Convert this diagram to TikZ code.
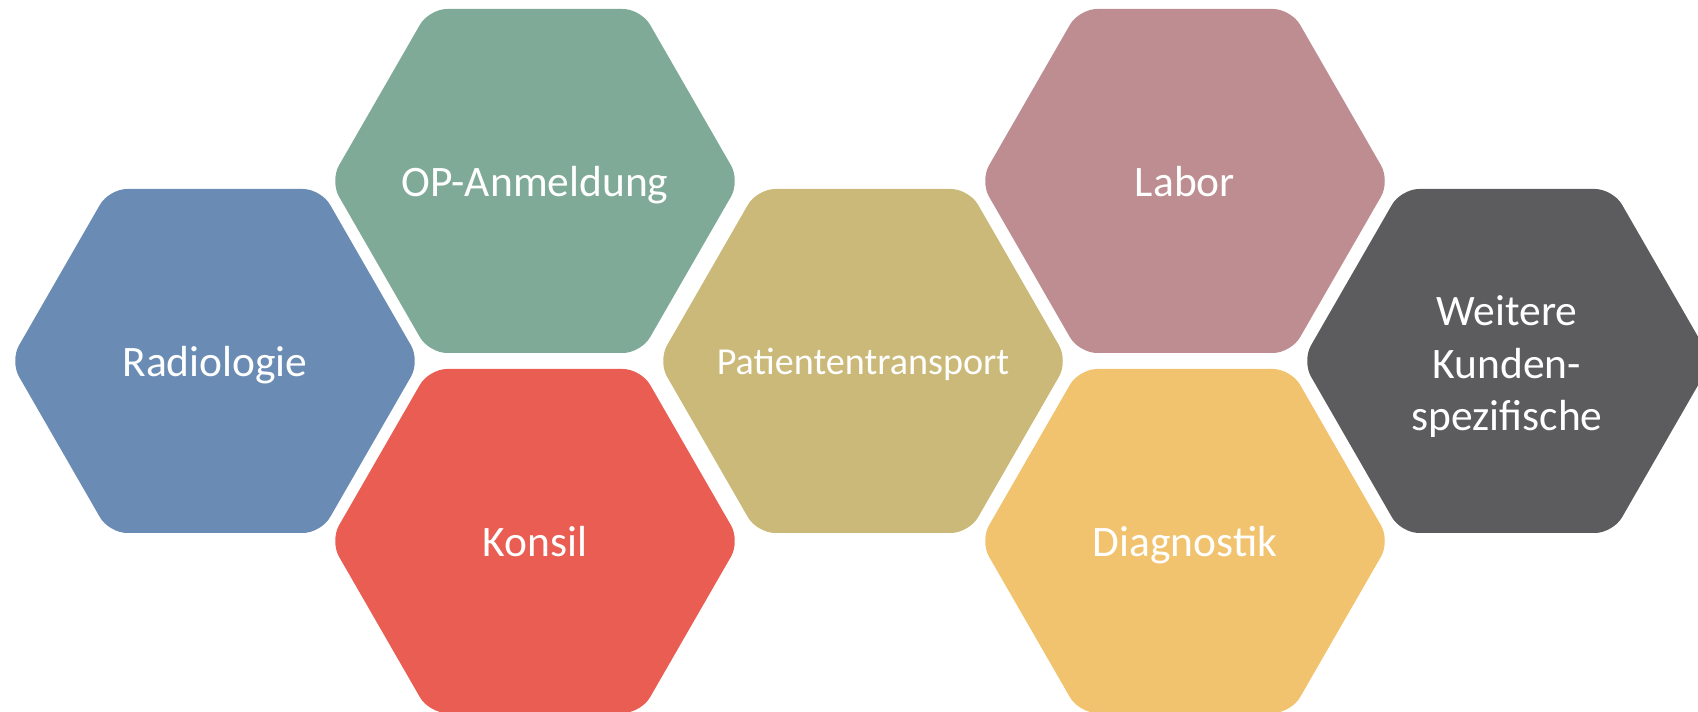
\documentclass[tikz,border=0pt]{standalone}
\usepackage{fontspec}
\setmainfont{Carlito}
\usepackage{tikz}
\usetikzlibrary{positioning}
\usetikzlibrary{calc}

\definecolor{radblue}{HTML}{6A8CB4}
\definecolor{opgreen}{HTML}{7FAA98}
\definecolor{konsilred}{HTML}{E95D52}
\definecolor{patolive}{HTML}{CBB979}
\definecolor{laborrose}{HTML}{BD8D91}
\definecolor{diagyellow}{HTML}{F2C36F}
\definecolor{weitgray}{HTML}{5C5C5E}

\tikzset{
	hexcell/.style={fill=#1, rounded corners=0.36cm},
	hexlabel/.style={text=white, align=center, font=\fontsize{24.75}{29.9}\selectfont},
}

\begin{document}
\begin{tikzpicture}[x=0.02cm, y=-0.02cm]
	\useasboundingbox (0,0) rectangle (1698,712);
	\clip (0,0) rectangle (1698,712);

	% Waben
	% -----
	\foreach \n/\cx/\cy/\col in {rad/215/361/radblue, op/535/181/opgreen,
		konsil/535/541/konsilred, pat/863/361/patolive, labor/1185/181/laborrose,
		diag/1185/541/diagyellow, weit/1507/361/weitgray}{
		\coordinate (\n) at (\cx,\cy);
		\fill[hexcell=\col] (\n) ++(-205,0) -- ++(99,-172) -- ++(212,0)
			-- ++(99,172) -- ++(-99,172) -- ++(-212,0) -- cycle;
	}

	% Beschriftungen
	\node[hexlabel, anchor=base] (radtext) at ($(rad)+(0,16)$) {Radiologie};
	\node[hexlabel, anchor=base] (optext) at ($(op)+(0,16)$) {OP-Anmeldung};
	\node[hexlabel, anchor=base] (konsiltext) at ($(konsil)+(0,16)$) {Konsil};
	\node[hexlabel, anchor=base, font=\fontsize{21.7}{26}\selectfont]
		(pattext) at ($(pat)+(0,14)$) {Patiententransport};
	\node[hexlabel, anchor=base] (labortext) at ($(labor)+(0,16)$) {Labor};
	\node[hexlabel, anchor=base] (diagtext) at ($(diag)+(0,16)$) {Diagnostik};
	\node[hexlabel] (weittext) at ($(weit)+(0,6)$) {Weitere\\Kunden-\\spezifische};
\end{tikzpicture}
\end{document}
